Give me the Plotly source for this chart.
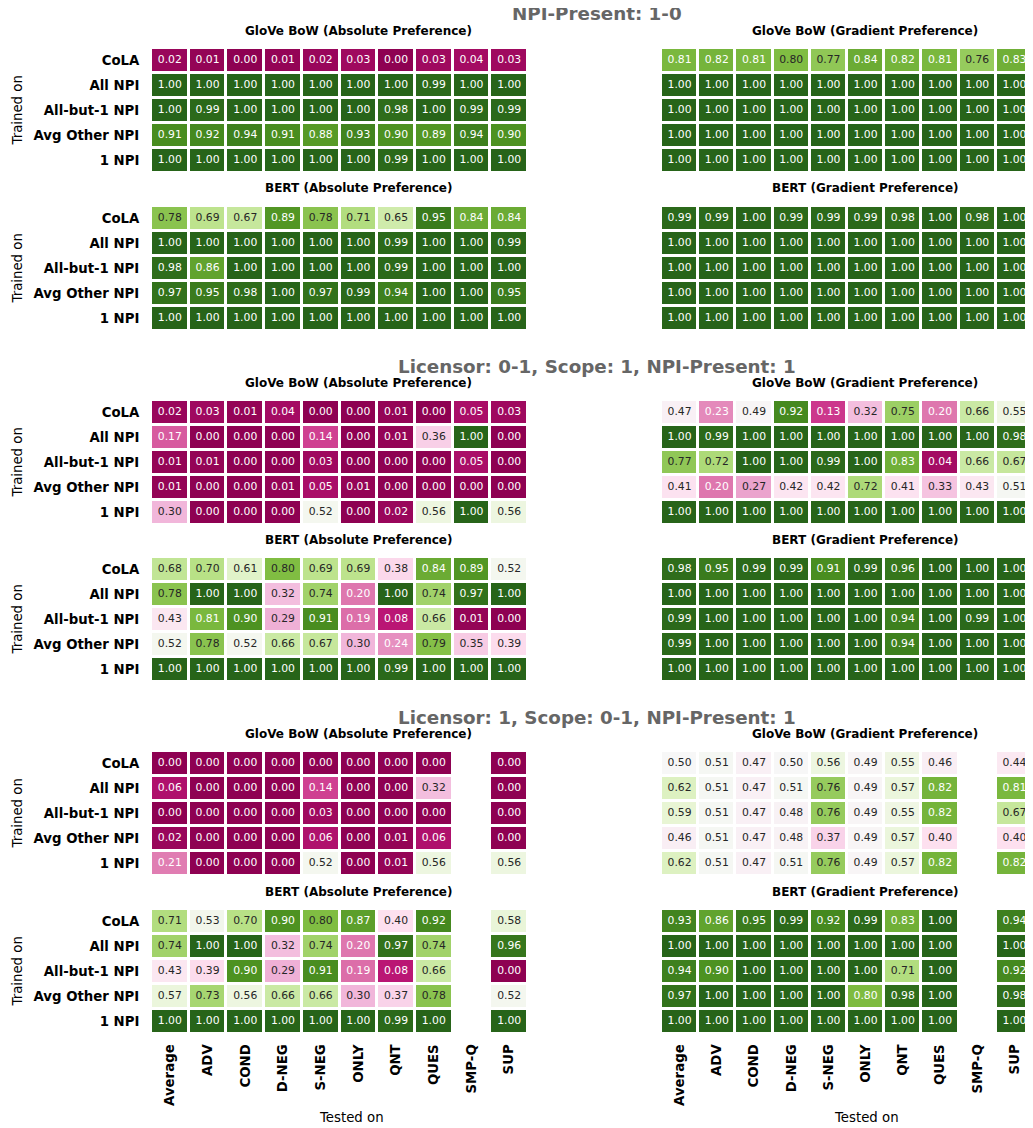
import plotly.graph_objects as go

# page size is 1033x1128; the page body has an 8px margin, so the figure is offset by 8px
PAGE_W, PAGE_H, OFF = 1033, 1128, 8
W, H = PAGE_W - OFF, PAGE_H - OFF

columns = ["Average", "ADV", "COND", "D-NEG", "S-NEG", "ONLY", "QNT", "QUES", "SMP-Q", "SUP"]
rows = ["CoLA", "All NPI", "All-but-1 NPI", "Avg Other NPI", "1 NPI"]

section_titles = ["NPI-Present: 1-0",
                  "Licensor: 0-1, Scope: 1, NPI-Present: 1",
                  "Licensor: 1, Scope: 0-1, NPI-Present: 1"]
panel_titles = ["GloVe BoW (Absolute Preference)", "GloVe BoW (Gradient Preference)",
                "BERT (Absolute Preference)", "BERT (Gradient Preference)"]
N = None

# ---- Section 1: NPI-Present 1-0 ----
s1_glove_abs = [
    [0.02, 0.01, 0.00, 0.01, 0.02, 0.03, 0.00, 0.03, 0.04, 0.03],
    [1.00, 1.00, 1.00, 1.00, 1.00, 1.00, 1.00, 0.99, 1.00, 1.00],
    [1.00, 0.99, 1.00, 1.00, 1.00, 1.00, 0.98, 1.00, 0.99, 0.99],
    [0.91, 0.92, 0.94, 0.91, 0.88, 0.93, 0.90, 0.89, 0.94, 0.90],
    [1.00, 1.00, 1.00, 1.00, 1.00, 1.00, 0.99, 1.00, 1.00, 1.00],
]
s1_glove_grad = [
    [0.81, 0.82, 0.81, 0.798, 0.77, 0.84, 0.82, 0.81, 0.76, 0.83],
    [1.00, 1.00, 1.00, 1.00, 1.00, 1.00, 1.00, 1.00, 1.00, 1.00],
    [1.00, 1.00, 1.00, 1.00, 1.00, 1.00, 1.00, 1.00, 1.00, 1.00],
    [1.00, 1.00, 1.00, 1.00, 1.00, 1.00, 1.00, 1.00, 1.00, 1.00],
    [1.00, 1.00, 1.00, 1.00, 1.00, 1.00, 1.00, 1.00, 1.00, 1.00],
]
s1_bert_abs = [
    [0.78, 0.69, 0.67, 0.89, 0.78, 0.71, 0.65, 0.95, 0.84, 0.84],
    [1.00, 1.00, 1.00, 1.00, 1.00, 1.00, 0.99, 1.00, 1.00, 0.99],
    [0.98, 0.86, 1.00, 1.00, 1.00, 1.00, 0.99, 1.00, 1.00, 1.00],
    [0.97, 0.95, 0.98, 1.00, 0.97, 0.99, 0.94, 1.00, 1.00, 0.95],
    [1.00, 1.00, 1.00, 1.00, 1.00, 1.00, 1.00, 1.00, 1.00, 1.00],
]
s1_bert_grad = [
    [0.99, 0.99, 1.00, 0.99, 0.99, 0.99, 0.98, 1.00, 0.98, 1.00],
    [1.00, 1.00, 1.00, 1.00, 1.00, 1.00, 1.00, 1.00, 1.00, 1.00],
    [1.00, 1.00, 1.00, 1.00, 1.00, 1.00, 1.00, 1.00, 1.00, 1.00],
    [1.00, 1.00, 1.00, 1.00, 1.00, 1.00, 1.00, 1.00, 1.00, 1.00],
    [1.00, 1.00, 1.00, 1.00, 1.00, 1.00, 1.00, 1.00, 1.00, 1.00],
]

# ---- Section 2: Licensor 0-1, Scope 1, NPI-Present 1 ----
s2_glove_abs = [
    [0.02, 0.03, 0.01, 0.04, 0.00, 0.00, 0.01, 0.00, 0.05, 0.03],
    [0.17, 0.00, 0.00, 0.00, 0.14, 0.00, 0.01, 0.36, 1.00, 0.00],
    [0.01, 0.01, 0.00, 0.00, 0.03, 0.00, 0.00, 0.00, 0.05, 0.00],
    [0.01, 0.00, 0.00, 0.01, 0.05, 0.01, 0.00, 0.00, 0.00, 0.00],
    [0.30, 0.00, 0.00, 0.00, 0.52, 0.00, 0.02, 0.56, 1.00, 0.56],
]
s2_glove_grad = [
    [0.47, 0.23, 0.49, 0.92, 0.13, 0.32, 0.75, 0.20, 0.66, 0.55],
    [1.00, 0.99, 1.00, 1.00, 1.00, 1.00, 1.00, 1.00, 1.00, 0.98],
    [0.77, 0.72, 1.00, 1.00, 0.99, 1.00, 0.83, 0.04, 0.66, 0.67],
    [0.41, 0.20, 0.27, 0.42, 0.42, 0.72, 0.41, 0.33, 0.43, 0.51],
    [1.00, 1.00, 1.00, 1.00, 1.00, 1.00, 1.00, 1.00, 1.00, 1.00],
]
s2_bert_abs = [
    [0.68, 0.70, 0.61, 0.798, 0.69, 0.69, 0.38, 0.84, 0.89, 0.52],
    [0.78, 1.00, 1.00, 0.32, 0.74, 0.20, 1.00, 0.74, 0.97, 1.00],
    [0.43, 0.81, 0.90, 0.29, 0.91, 0.19, 0.08, 0.66, 0.01, 0.00],
    [0.52, 0.78, 0.52, 0.66, 0.67, 0.30, 0.24, 0.79, 0.35, 0.39],
    [1.00, 1.00, 1.00, 1.00, 1.00, 1.00, 0.99, 1.00, 1.00, 1.00],
]
s2_bert_grad = [
    [0.98, 0.95, 0.99, 0.99, 0.91, 0.99, 0.96, 1.00, 1.00, 1.00],
    [1.00, 1.00, 1.00, 1.00, 1.00, 1.00, 1.00, 1.00, 1.00, 1.00],
    [0.99, 1.00, 1.00, 1.00, 1.00, 1.00, 0.94, 1.00, 0.99, 1.00],
    [0.99, 1.00, 1.00, 1.00, 1.00, 1.00, 0.94, 1.00, 1.00, 1.00],
    [1.00, 1.00, 1.00, 1.00, 1.00, 1.00, 1.00, 1.00, 1.00, 1.00],
]

# ---- Section 3: Licensor 1, Scope 0-1, NPI-Present 1 ----
s3_glove_abs = [
    [0.00, 0.00, 0.00, 0.00, 0.00, 0.00, 0.00, 0.00, N, 0.00],
    [0.06, 0.00, 0.00, 0.00, 0.14, 0.00, 0.00, 0.32, N, 0.00],
    [0.00, 0.00, 0.00, 0.00, 0.03, 0.00, 0.00, 0.00, N, 0.00],
    [0.02, 0.00, 0.00, 0.00, 0.06, 0.00, 0.01, 0.06, N, 0.00],
    [0.21, 0.00, 0.00, 0.00, 0.52, 0.00, 0.01, 0.56, N, 0.56],
]
s3_glove_grad = [
    [0.50, 0.51, 0.47, 0.50, 0.56, 0.49, 0.55, 0.46, N, 0.44],
    [0.62, 0.51, 0.47, 0.51, 0.76, 0.49, 0.57, 0.82, N, 0.81],
    [0.59, 0.51, 0.47, 0.48, 0.76, 0.49, 0.55, 0.82, N, 0.67],
    [0.46, 0.51, 0.47, 0.48, 0.37, 0.49, 0.57, 0.40, N, 0.40],
    [0.62, 0.51, 0.47, 0.51, 0.76, 0.49, 0.57, 0.82, N, 0.82],
]
s3_bert_abs = [
    [0.71, 0.53, 0.70, 0.90, 0.798, 0.87, 0.40, 0.92, N, 0.58],
    [0.74, 1.00, 1.00, 0.32, 0.74, 0.20, 0.97, 0.74, N, 0.96],
    [0.43, 0.39, 0.90, 0.29, 0.91, 0.19, 0.08, 0.66, N, 0.00],
    [0.57, 0.73, 0.56, 0.66, 0.66, 0.30, 0.37, 0.78, N, 0.52],
    [1.00, 1.00, 1.00, 1.00, 1.00, 1.00, 0.99, 1.00, N, 1.00],
]
s3_bert_grad = [
    [0.93, 0.86, 0.95, 0.99, 0.92, 0.99, 0.83, 1.00, N, 0.94],
    [1.00, 1.00, 1.00, 1.00, 1.00, 1.00, 1.00, 1.00, N, 1.00],
    [0.94, 0.90, 1.00, 1.00, 1.00, 1.00, 0.71, 1.00, N, 0.92],
    [0.97, 1.00, 1.00, 1.00, 1.00, 0.803, 0.98, 1.00, N, 0.98],
    [1.00, 1.00, 1.00, 1.00, 1.00, 1.00, 1.00, 1.00, N, 1.00],
]

PIYG = [(142, 1, 82), (197, 27, 125), (222, 119, 174), (241, 182, 218), (253, 224, 239),
        (247, 247, 247), (230, 245, 208), (184, 225, 134), (127, 188, 65), (77, 146, 33),
        (39, 100, 25)]
PIYG_SCALE = [[i / 10, "rgb(%d,%d,%d)" % c] for i, c in enumerate(PIYG)]


def text_color(v):
    t = min(max(v, 0.0), 1.0) * 10
    i = min(int(t), 9)
    f = t - i
    c = [PIYG[i][k] + (PIYG[i + 1][k] - PIYG[i][k]) * f for k in range(3)]

    def lin(u):
        u = u / 255.0
        return u / 12.92 if u <= 0.03928 else ((u + 0.055) / 1.055) ** 2.4

    lum = 0.2126 * lin(c[0]) + 0.7152 * lin(c[1]) + 0.0722 * lin(c[2])
    return "#262626" if lum > 0.408 else "white"


def fx(px):
    return min(max((px - OFF) / W, 0.0), 1.0)


def fy(py):
    return min(max(1 - (py - OFF) / H, 0.0), 1.0)


FONT = "DejaVu Sans"
LX = (151, 528)
RX = (661, 1035)
# (data, x-range px, top px, bottom px, show x ticks, show y ticks)  -- page pixel coords
panels = [
    (s1_glove_abs, LX, 48, 173, False, True),
    (s1_glove_grad, RX, 48, 173, False, False),
    (s1_bert_abs, LX, 206, 331, False, True),
    (s1_bert_grad, RX, 206, 331, False, False),
    (s2_glove_abs, LX, 400, 525, False, True),
    (s2_glove_grad, RX, 400, 525, False, False),
    (s2_bert_abs, LX, 557, 682, False, True),
    (s2_bert_grad, RX, 557, 682, False, False),
    (s3_glove_abs, LX, 751, 876, False, True),
    (s3_glove_grad, RX, 751, 876, False, False),
    (s3_bert_abs, LX, 909, 1034, True, True),
    (s3_bert_grad, RX, 909, 1034, True, False),
]

fig = go.Figure()
layout = {}
for i, (data, xr, top, bot, sx, sy) in enumerate(panels, start=1):
    xa, ya = ("x%d" % i), ("y%d" % i)
    fig.add_trace(go.Heatmap(z=data, x=columns, y=rows, colorscale=PIYG_SCALE, zmin=0, zmax=1,
                             showscale=False, xgap=3, ygap=3, hoverinfo="skip",
                             xaxis=xa, yaxis=ya))
    tx, ty, tt, tc = [], [], [], []
    for r, rname in enumerate(rows):
        for c, cname in enumerate(columns):
            v = data[r][c]
            if v is None:
                continue
            tx.append(cname)
            ty.append(rname)
            tt.append("%.2f" % v)
            tc.append(text_color(v))
    fig.add_trace(go.Scatter(x=tx, y=ty, text=tt, mode="text", hoverinfo="skip",
                             textfont=dict(family=FONT, size=10.8, color=tc),
                             showlegend=False, xaxis=xa, yaxis=ya))
    layout["xaxis%d" % i] = dict(
        domain=[fx(xr[0]), fx(xr[1])], anchor=ya, type="category", categoryorder="array",
        categoryarray=columns, range=[-0.5, 9.5], showgrid=False, zeroline=False,
        showline=False, showticklabels=sx, tickangle=-90, ticks="outside", ticklen=4,
        tickcolor="rgba(0,0,0,0)",
        tickfont=dict(family=FONT, size=13.3, color="black", weight="bold"))
    layout["yaxis%d" % i] = dict(
        domain=[fy(bot), fy(top)], anchor=xa, type="category", categoryorder="array",
        categoryarray=rows, range=[4.5, -0.5], showgrid=False, zeroline=False,
        showline=False, showticklabels=sy, ticks="outside", ticklen=8,
        tickcolor="rgba(0,0,0,0)",
        tickfont=dict(family=FONT, size=13.3, color="black", weight="bold"))

annotations = []
sec_title_y = [14, 366, 717]
sub_title_y = [(31, 188), (383, 540), (734, 892)]
TITLE_CX = [358, 865]
for s in range(3):
    annotations.append(dict(text="<b>%s</b>" % section_titles[s], x=fx(597), y=fy(sec_title_y[s]),
                            xref="paper", yref="paper", showarrow=False, xanchor="center",
                            yanchor="middle", font=dict(family=FONT, size=18.3, color="#666666")))
    for m in range(2):
        for side in range(2):
            annotations.append(dict(text="<b>%s</b>" % panel_titles[m * 2 + side],
                                    x=fx(TITLE_CX[side]), y=fy(sub_title_y[s][m]),
                                    xref="paper", yref="paper", showarrow=False,
                                    xanchor="center", yanchor="middle",
                                    font=dict(family=FONT, size=12, color="black")))
for (data, xr, top, bot, sx, sy) in panels:
    if sy:
        annotations.append(dict(text="Trained on", x=fx(17), y=fy((top + bot) / 2),
                                xref="paper", yref="paper", showarrow=False, textangle=-90,
                                xanchor="center", yanchor="middle",
                                font=dict(family=FONT, size=13.3, color="black")))
for cx in [351, 866]:
    annotations.append(dict(text="Tested on", x=fx(cx), y=fy(1117), xref="paper", yref="paper",
                            showarrow=False, xanchor="center", yanchor="middle",
                            font=dict(family=FONT, size=13.3, color="black")))

fig.update_layout(width=W, height=H, margin=dict(l=0, r=0, t=0, b=0),
                  paper_bgcolor="white", plot_bgcolor="white", showlegend=False,
                  annotations=annotations, **layout)
fig.write_html("out.html")
